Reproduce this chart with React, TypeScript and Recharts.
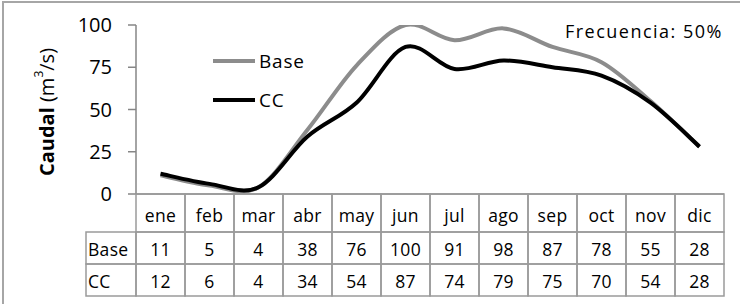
import React from 'react';
import { LineChart, Line, XAxis, YAxis } from 'recharts';

if (typeof document !== 'undefined') document.body.style.margin = '0';

const months = ['ene', 'feb', 'mar', 'abr', 'may', 'jun', 'jul', 'ago', 'sep', 'oct', 'nov', 'dic'];
const baseValues = [11, 5, 4, 38, 76, 100, 91, 98, 87, 78, 55, 28];
const ccValues = [12, 6, 4, 34, 54, 87, 74, 79, 75, 70, 54, 28];
const yTicks = [0, 25, 50, 75, 100];
const seriesNames = ['Base', 'CC'];
const seriesColors = ['#8c8c8c', '#000000'];

const data = months.map((m, i) => ({ month: m, Base: baseValues[i], CC: ccValues[i] }));

const FONT = '"Open Sans", sans-serif';
const W = 740;
const H = 304;
const PLOT_LEFT = 136;
const PLOT_RIGHT = 724;
const PLOT_TOP = 25;
const PLOT_BOTTOM = 194;
const BAND = (PLOT_RIGHT - PLOT_LEFT) / months.length;
const GRID = '#9a9a9a';
const AXIS = '#868686';

// Excel-like smoothing (Catmull-Rom as cubic Bezier)
const excelSmooth = (ctx: any) => {
  let pts: number[][] = [];
  return {
    areaStart() {},
    areaEnd() {},
    lineStart() { pts = []; },
    point(x: number, y: number) { pts.push([+x, +y]); },
    lineEnd() {
      const n = pts.length;
      if (!n) return;
      ctx.moveTo(pts[0][0], pts[0][1]);
      for (let i = 0; i < n - 1; i++) {
        const p0 = pts[Math.max(i - 1, 0)];
        const p1 = pts[i];
        const p2 = pts[i + 1];
        const p3 = pts[Math.min(i + 2, n - 1)];
        ctx.bezierCurveTo(
          p1[0] + (p2[0] - p0[0]) / 6, p1[1] + (p2[1] - p0[1]) / 6,
          p2[0] - (p3[0] - p1[0]) / 6, p2[1] - (p3[1] - p1[1]) / 6,
          p2[0], p2[1]
        );
      }
    },
  };
};

const rowVals: Record<string, number[]> = { Base: baseValues, CC: ccValues };

const TableTick = (props: any) => {
  const { x, payload, index } = props;
  const top = PLOT_BOTTOM;
  const r1 = 232, r2 = 264, r3 = 296;
  const left = x - BAND / 2;
  const ts = { fontFamily: FONT, fontSize: 17.5, letterSpacing: 0.3, fill: '#000' };
  return (
    <g>
      <rect x={left} y={top} width={BAND} height={r1 - top} fill="none" stroke={GRID} strokeWidth={1.5} />
      <rect x={left} y={r1} width={BAND} height={r2 - r1} fill="none" stroke={GRID} strokeWidth={1.5} />
      <rect x={left} y={r2} width={BAND} height={r3 - r2} fill="none" stroke={GRID} strokeWidth={1.5} />
      <text x={x} y={215} textAnchor="middle" dominantBaseline="central" {...ts}>{payload.value}</text>
      {seriesNames.map((s, k) => (
        <text key={s} x={x} y={k === 0 ? 249 : 281} textAnchor="middle" dominantBaseline="central" {...ts}>
          {rowVals[s][index]}
        </text>
      ))}
      {index === 0 && (
        <g>
          <rect x={86} y={r1} width={left - 86} height={r2 - r1} fill="none" stroke={GRID} strokeWidth={1.5} />
          <rect x={86} y={r2} width={left - 86} height={r3 - r2} fill="none" stroke={GRID} strokeWidth={1.5} />
          {seriesNames.map((s, k) => (
            <text key={s} x={88} y={k === 0 ? 249 : 281} textAnchor="start" dominantBaseline="central" {...ts}>{s}</text>
          ))}
        </g>
      )}
    </g>
  );
};

const YLabel = () => (
  <text x={0} y={0} transform={`translate(46, 112) rotate(-90)`} textAnchor="middle" dominantBaseline="central" fontFamily={FONT} fontSize={20} fill="#000">
    <tspan fontWeight="bold">Caudal</tspan>
    <tspan> (m</tspan>
    <tspan fontSize={12} dy={-8}>3</tspan>
    <tspan dy={8}>/s)</tspan>
  </text>
);

const LegendBox = () => (
  <g>
    {seriesNames.map((s, i) => (
      <g key={s}>
        <line x1={213} x2={255} y1={61 + i * 39} y2={61 + i * 39} stroke={seriesColors[i]} strokeWidth={4} />
        <text x={259} y={61 + i * 39} dominantBaseline="central" fontFamily={FONT} fontSize={19} letterSpacing={0.8} fill="#000">{s}</text>
      </g>
    ))}
  </g>
);

export default function App() {
  return (
    <div style={{ position: 'relative', width: W, height: H, background: '#fff', overflow: 'hidden' }}>
      <svg width={W} height={H} style={{ position: 'absolute', left: 0, top: 0 }}>
        <rect x={3} y={2} width={W + 10} height={H + 10} fill="none" stroke="#a6a6a6" strokeWidth={2} />
        <YLabel />
      </svg>
      <div style={{ position: 'absolute', left: 0, top: 0 }}>
        <LineChart width={W} height={H} data={data} margin={{ top: PLOT_TOP, right: W - PLOT_RIGHT, bottom: 0, left: 0 }}>
          <XAxis
            dataKey="month"
            height={H - PLOT_BOTTOM}
            padding={{ left: BAND / 2, right: BAND / 2 }}
            axisLine={{ stroke: AXIS, strokeWidth: 1.5 }}
            tickLine={false}
            tickSize={0}
            tickMargin={0}
            interval={0}
            tick={<TableTick />}
          />
          <YAxis
            width={PLOT_LEFT}
            domain={[0, 100]}
            ticks={yTicks}
            allowDataOverflow
            axisLine={{ stroke: AXIS, strokeWidth: 1.5 }}
            tickLine={{ stroke: AXIS, strokeWidth: 1.5 }}
            tickSize={8}
            tickMargin={16}
            tick={{ fontFamily: FONT, fontSize: 20, fill: '#000' }}
          />
          <Line type={excelSmooth as any} dataKey="Base" stroke={seriesColors[0]} strokeWidth={4} dot={false} isAnimationActive={false} />
          <Line type={excelSmooth as any} dataKey="CC" stroke={seriesColors[1]} strokeWidth={4} dot={false} isAnimationActive={false} />
        </LineChart>
      </div>
      <svg width={W} height={H} style={{ position: 'absolute', left: 0, top: 0, pointerEvents: 'none' }}>
        <LegendBox />
        <text x={723} y={31} textAnchor="end" dominantBaseline="central" fontFamily={FONT} fontSize={18} letterSpacing={1.5} fill="#000">Frecuencia: 50%</text>
      </svg>
    </div>
  );
}
